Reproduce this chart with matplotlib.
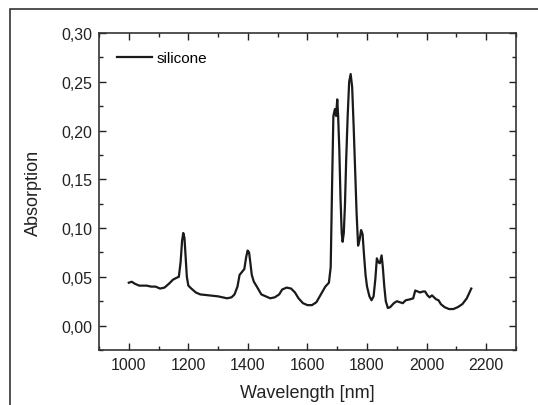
import numpy as np
import matplotlib
matplotlib.use("Agg")
import matplotlib.pyplot as plt
from matplotlib.ticker import MultipleLocator, FuncFormatter
from matplotlib.patches import Rectangle

plt.rcParams['font.family'] = ['Liberation Sans', 'DejaVu Sans']

# spectrum
wavelength = [1000, 1010, 1020, 1035, 1060, 1075, 1090, 1105, 1120, 1135, 1148, 1160,
              1168, 1174, 1179, 1183, 1187, 1191, 1195, 1200, 1210, 1225, 1240, 1270,
              1300, 1330, 1345, 1355, 1365, 1372, 1380, 1388, 1394, 1399, 1404, 1408,
              1413, 1420, 1430, 1445, 1460, 1475, 1490, 1505, 1515, 1530, 1545, 1558,
              1570, 1585, 1600, 1615, 1630, 1645, 1660, 1672, 1678, 1683, 1687, 1692,
              1696, 1700, 1703, 1707, 1711, 1715, 1718, 1722, 1726, 1730, 1735, 1740,
              1745, 1750, 1755, 1760, 1765, 1770, 1775, 1780, 1785, 1790, 1795, 1800,
              1808, 1815, 1822, 1828, 1833, 1838, 1843, 1849, 1853, 1858, 1863, 1870,
              1878, 1890, 1900, 1910, 1920, 1930, 1945, 1955, 1962, 1970, 1978, 1988,
              1995, 2003, 2010, 2018, 2025, 2032, 2040, 2048, 2060, 2075, 2090, 2105,
              2120, 2135, 2150]
absorption = [0.044, 0.045, 0.043, 0.041, 0.041, 0.040, 0.040, 0.038, 0.039, 0.043, 0.047, 0.049,
              0.050, 0.065, 0.087, 0.095, 0.090, 0.070, 0.050, 0.041, 0.038, 0.034, 0.032, 0.031,
              0.030, 0.028, 0.029, 0.032, 0.040, 0.052, 0.055, 0.058, 0.070, 0.077, 0.075, 0.065,
              0.052, 0.045, 0.040, 0.032, 0.030, 0.028, 0.029, 0.032, 0.037, 0.039, 0.038, 0.034,
              0.028, 0.023, 0.021, 0.021, 0.024, 0.032, 0.040, 0.044, 0.060, 0.150, 0.215, 0.222,
              0.215, 0.232, 0.215, 0.180, 0.130, 0.095, 0.086, 0.095, 0.125, 0.170, 0.215, 0.250,
              0.258, 0.245, 0.205, 0.160, 0.115, 0.082, 0.088, 0.098, 0.094, 0.072, 0.052, 0.040,
              0.030, 0.026, 0.030, 0.048, 0.069, 0.065, 0.064, 0.072, 0.060, 0.040, 0.025, 0.018,
              0.019, 0.023, 0.025, 0.024, 0.023, 0.026, 0.027, 0.028, 0.036, 0.035, 0.034, 0.035,
              0.035, 0.031, 0.029, 0.031, 0.029, 0.027, 0.026, 0.022, 0.019, 0.017, 0.017, 0.019,
              0.022, 0.028, 0.038]

fig = plt.figure(figsize=(5.38, 4.06), dpi=100)
ax = fig.add_axes([0.184, 0.1355, 0.775, 0.7805])

ax.plot(wavelength, absorption, color='#1a1a1a', lw=1.6, label='silicone',
        solid_joinstyle='round')

ax.set_xlim(900, 2300)
ax.set_ylim(-0.025, 0.30)
ax.xaxis.set_major_locator(MultipleLocator(200))
ax.xaxis.set_minor_locator(MultipleLocator(100))
ax.yaxis.set_major_locator(MultipleLocator(0.05))
ax.yaxis.set_minor_locator(MultipleLocator(0.025))
ax.yaxis.set_major_formatter(FuncFormatter(lambda v, p: ('%.2f' % v).replace('.', ',')))
ax.tick_params(which='both', direction='in', top=True, right=True, labelsize=11.5, colors='#222222')
ax.tick_params(which='major', length=5, width=1, pad=5)
ax.tick_params(which='minor', length=3, width=1)
for s in ax.spines.values():
    s.set_linewidth(1.2)
    s.set_color('#333333')

ax.set_xlabel('Wavelength [nm]', fontsize=13, color='#222222', labelpad=9)
ax.set_ylabel('Absorption', fontsize=13, color='#222222', labelpad=14)

ax.legend(loc='upper left', frameon=False, fontsize=11, handlelength=2.3,
          handletextpad=0.3, borderaxespad=0.8)

# outer frame, only left and top edges visible
fig.patches.append(Rectangle((10 / 538, -0.1), 1.2, 1 - 10 / 406 + 0.1,
                             transform=fig.transFigure, fill=False,
                             edgecolor='#333333', lw=1.2))

fig.savefig('out.png', dpi=100)
